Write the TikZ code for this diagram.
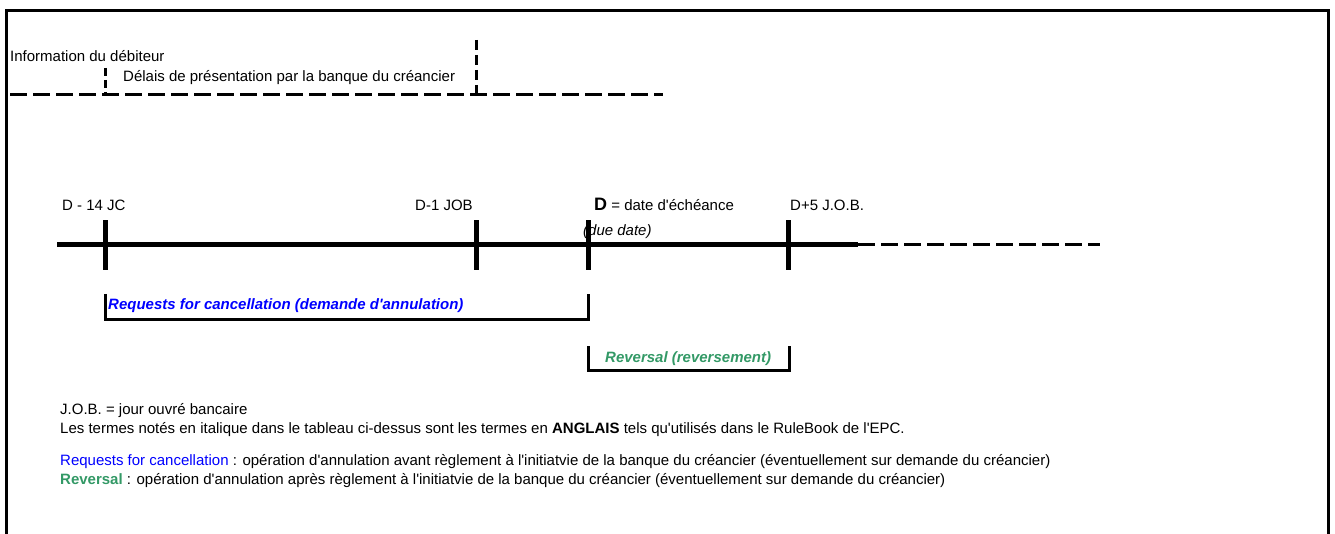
\documentclass[tikz,border=0pt]{standalone}
\usepackage{fontspec}
\setmainfont{Liberation Sans}[Ligatures=TeXOff]
\usetikzlibrary{positioning}
\definecolor{reqblue}{RGB}{0,0,255}
\definecolor{revgreen}{RGB}{51,153,102}
\tikzset{
  axisline/.style={line width=5pt},
  tickline/.style={line width=5pt},
  bracketline/.style={line width=3pt},
  dashline/.style={line width=3pt, dash pattern=on 17pt off 6pt},
  lbl/.style={anchor=base west, inner sep=0pt, font=\fontsize{15}{17}\selectfont},
}
\begin{document}
\begin{tikzpicture}[x=1pt,y=-1pt]
  \useasboundingbox (0,0) rectangle (1335,534);
  % frame
  \draw[line width=3pt] (6,534) -- (6,11) -- (1328,11) -- (1328,534);
  % header
  \node[lbl] (info) at (10,62) {Information du débiteur};
  \node[lbl] (delai) at (123,82) {Délais de présentation par la banque du créancier};
  \draw[dashline] (10,95) -- (663,95);
  \draw[dashline, dash pattern=on 8pt off 4pt] (105,68) -- (105,95);
  \draw[dashline, dash pattern=on 10pt off 5pt] (476,40) -- (476,95);
  % timeline
  \coordinate (t1) at (105,245);
  \coordinate (t2) at (476,245);
  \coordinate (t3) at (588,245);
  \coordinate (t4) at (788,245);
  \draw[axisline] (57,245) -- (858,245);
  \draw[dashline] (858,245) -- (1100,245);
  \foreach \t in {t1,t2,t3,t4}
    \draw[tickline] ([yshift=-25pt]\t) -- ([yshift=25pt]\t);
  \node[lbl] (d14) at (62,211) {D - 14 JC};
  \node[lbl] (d1) at (415,211) {D-1 JOB};
  \node[lbl] (d0) at (594,211) {{\fontsize{18}{20}\selectfont\bfseries D} = date d'échéance};
  \node[lbl] (d5) at (790,211) {D+5 J.O.B.};
  \node[lbl, font=\fontsize{15}{17}\selectfont\itshape] (due) at (583,236) {(due date)};
  % brackets
  \draw[bracketline] (105,294) -- (105,320) -- (588,320) -- (588,294);
  \node[lbl, font=\fontsize{15}{17}\selectfont\bfseries\itshape, text=reqblue] (req) at (108,310) {Requests for cancellation (demande d'annulation)};
  \draw[bracketline] (588,346) -- (588,370) -- (789,370) -- (789,346);
  \node[lbl, font=\fontsize{15}{17}\selectfont\bfseries\itshape, text=revgreen] (rev) at (605,362) {Reversal (reversement)};
  % notes
  \node[lbl] (job) at (60,414) {J.O.B. = jour ouvré bancaire};
  \node[lbl] (terms) at (60,433) {Les termes notés en italique dans le tableau ci-dessus sont les termes en \textbf{ANGLAIS} tels qu'utilisés dans le RuleBook de l'EPC.};
  \node[lbl] (nreq) at (60,465) {\textcolor{reqblue}{Requests for cancellation} : opération d'annulation avant règlement à l'initiatvie de la banque du créancier (éventuellement sur demande du créancier)};
  \node[lbl] (nrev) at (60,484) {\textcolor{revgreen}{\textbf{Reversal}} : opération d'annulation après règlement à l'initiatvie de la banque du créancier (éventuellement sur demande du créancier)};
\end{tikzpicture}
\end{document}
